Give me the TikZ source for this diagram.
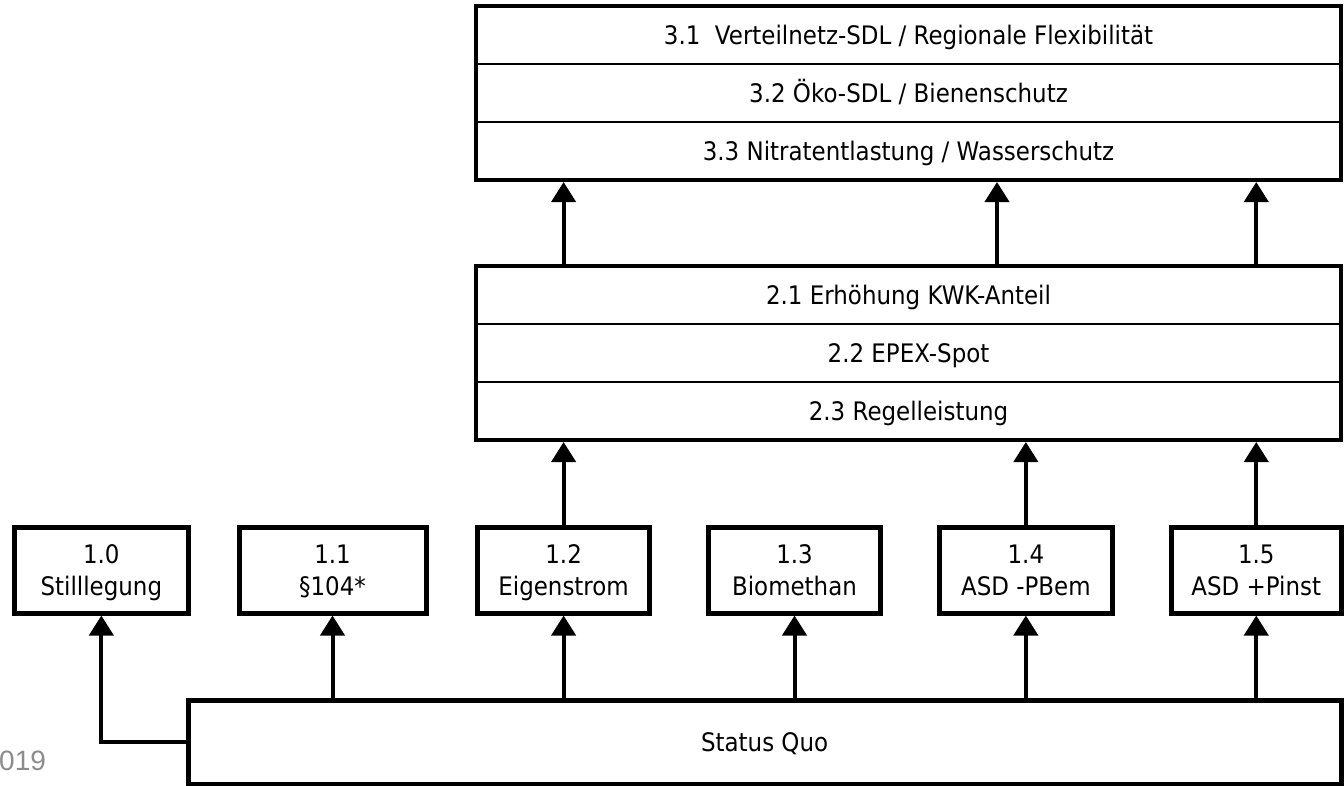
\documentclass[tikz,border=0pt]{standalone}
\usepackage{fontspec}
\setmainfont{DejaVu Sans}[FakeStretch=0.9]
\newfontfamily\footfont{Liberation Sans}
\usetikzlibrary{arrows.meta}
\definecolor{footgray}{HTML}{8C8C8C}
\newcommand\capline[1]{\raisebox{0pt}[18.6pt][0pt]{#1}}
\newcommand\zeroline[1]{\raisebox{0pt}[0pt][0pt]{#1}}
\begin{document}
\begin{tikzpicture}[x=1pt,y=-1pt,
  mainfont/.style={font=\fontsize{25.5}{31.7}\selectfont},
  bigbox/.style={draw, line width=4pt, inner sep=0pt, minimum width=865pt, minimum height=174pt},
  rowbox/.style={draw, line width=2pt, inner sep=0pt, minimum width=865pt, minimum height=58pt,
                 mainfont, text height=18.6pt, text depth=0pt},
  smallbox/.style={draw, line width=5pt, inner sep=0pt, minimum height=86pt, align=center, mainfont},
  sqbox/.style={draw, line width=5pt, inner sep=0pt, minimum width=1152.8pt, minimum height=84pt,
                mainfont, text height=18.6pt, text depth=0pt},
  arr/.style={line width=4pt, -{Triangle[length=20pt,width=24pt]}},
  foot/.style={font=\footfont\fontsize{28}{30}\selectfont, text=footgray, inner sep=0pt, anchor=base west}
]
\useasboundingbox (0,0) rectangle (1344,785);

% level 3
\node[rowbox] (r31) at (908.5,35) {3.1\ \ Verteilnetz-SDL / Regionale Flexibilität};
\node[rowbox] (r32) at (908.5,93) {3.2 Öko-SDL / Bienenschutz};
\node[rowbox] (r33) at (908.5,151) {3.3 Nitratentlastung / Wasserschutz};
\node[bigbox] (lvlthree) at (908.5,93) {};

% level 2
\node[rowbox] (r21) at (908.5,295) {2.1 Erhöhung KWK-Anteil};
\node[rowbox] (r22) at (908.5,353) {2.2 EPEX-Spot};
\node[rowbox] (r23) at (908.5,411) {2.3 Regelleistung};
\node[bigbox] (lvltwo) at (908.5,353) {};

% level 1
\node[smallbox, minimum width=173.3pt] (b10) at (101.35,570) {\capline{1.0}\\\zeroline{Stilllegung}};
\node[smallbox, minimum width=187pt]   (b11) at (332.5,570)  {\capline{1.1}\\\zeroline{§104*}};
\node[smallbox, minimum width=172.2pt] (b12) at (563.6,570)  {\capline{1.2}\\\zeroline{Eigenstrom}};
\node[smallbox, minimum width=172.6pt] (b13) at (794.5,570)  {\capline{1.3}\\\zeroline{Biomethan}};
\node[smallbox, minimum width=172.3pt] (b14) at (1025.85,570) {\capline{1.4}\\\zeroline{ASD -PBem}};
\node[smallbox, minimum width=170.5pt] (b15) at (1256.25,570) {\capline{1.5}\\\zeroline{ASD +Pinst}};

% status quo
\node[sqbox] (sq) at (764.6,742) {Status Quo};

% footer fragment
\node[foot] (yr) at (-1,770) {019};

\coordinate (cmid) at (997,0);

% connectors
\draw[arr] (sq.west) -| (b10.south);
\draw[arr] (sq.north -| b11) -- (b11.south);
\draw[arr] (sq.north -| b12) -- (b12.south);
\draw[arr] (sq.north -| b13) -- (b13.south);
\draw[arr] (sq.north -| b14) -- (b14.south);
\draw[arr] (sq.north -| b15) -- (b15.south);

\draw[arr] (b12.north) -- (lvltwo.south -| b12);
\draw[arr] (b14.north) -- (lvltwo.south -| b14);
\draw[arr] (b15.north) -- (lvltwo.south -| b15);

\draw[arr] (lvltwo.north -| b12) -- (lvlthree.south -| b12);
\draw[arr] (lvltwo.north -| cmid) -- (lvlthree.south -| cmid);
\draw[arr] (lvltwo.north -| b15) -- (lvlthree.south -| b15);
\end{tikzpicture}
\end{document}
